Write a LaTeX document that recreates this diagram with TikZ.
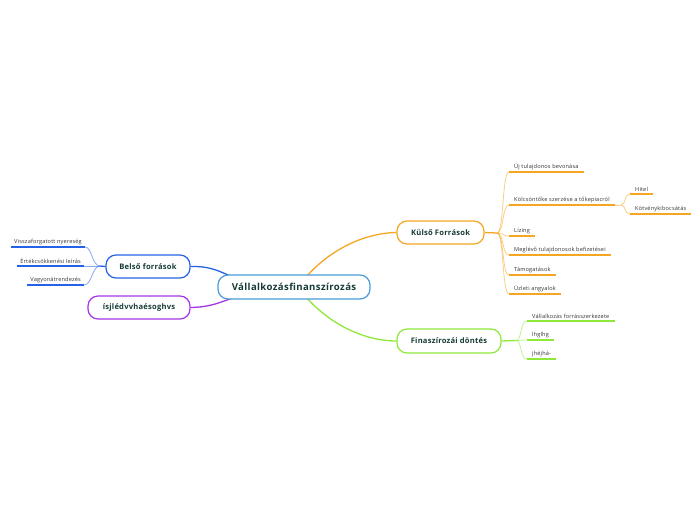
\documentclass[tikz,border=0pt]{standalone}
\usepackage{fontspec}
\setmainfont{Open Sans}
\usetikzlibrary{backgrounds}
\definecolor{cblue}{HTML}{2563E6}
\definecolor{ccenter}{HTML}{4A9BD9}
\definecolor{cpurple}{HTML}{A534E8}
\definecolor{corange}{HTML}{F5A623}
\definecolor{cgreen}{HTML}{8EE83A}
\definecolor{ctext}{HTML}{163B36}
\definecolor{cleaf}{HTML}{333333}
\begin{document}
\begin{tikzpicture}[x=1pt,y=-1pt,
  mainbox/.style={draw, line width=1.2pt, fill=white, rounded corners=10pt, inner sep=0pt,
    font=\fontsize{7.6}{8}\selectfont\bfseries\addfontfeatures{LetterSpace=3}, text=ctext},
  leaf/.style={inner xsep=5pt, inner ysep=2.2pt,
    font=\fontsize{5.6}{6}\selectfont\addfontfeatures{LetterSpace=3}, text=cleaf},
  under/.style={line width=1.6pt},
  twig/.style={line width=0.8pt, draw opacity=0.55},
  branch/.style={line width=1.3pt}]
\useasboundingbox (0,0) rectangle (696,520);

% main nodes
\node[mainbox, draw=ccenter, minimum width=152pt, minimum height=24pt,
  font=\fontsize{9.6}{10}\selectfont\bfseries\addfontfeatures{LetterSpace=4}] (c) at (294,287) {Vállalkozásfinanszírozás};
\node[mainbox, draw=cblue, minimum width=84pt, minimum height=23pt] (b) at (148,266.5) {Belső források};
\node[mainbox, draw=cpurple, minimum width=102pt, minimum height=23pt] (p) at (139,307.5) {ísjlédvvhaésoghvs};
\node[mainbox, draw=corange, minimum width=87pt, minimum height=23pt] (k) at (440.5,232.5) {Külső Források};
\node[mainbox, draw=cgreen, minimum width=104pt, minimum height=24pt] (f) at (449,341) {Finaszírozái döntés};

% leaves of Belso (left)
\node[leaf, inner xsep=3pt, anchor=south east] (b1) at (85,247) {Visszaforgatott nyereség};
\node[leaf, inner xsep=3pt, anchor=south east] (b2) at (84,266) {Értékcsökkenési leírás};
\node[leaf, inner xsep=3pt, anchor=south east] (b3) at (84,285) {Vagyonátrendezés};
\coordinate (bj) at (100,266);

% leaves of Kulso
\node[leaf, anchor=south west] (k1) at (509,172) {Új tulajdonos bevonása};
\node[leaf, anchor=south west] (k2) at (509,205) {Kölcsöntőke szerzése a tőkepiacról};
\node[leaf, anchor=south west] (k3) at (509,236) {Lízing};
\node[leaf, anchor=south west] (k4) at (509,255) {Meglévő tulajdonosok befizetései};
\node[leaf, anchor=south west] (k5) at (509,275) {Támogatások};
\node[leaf, anchor=south west] (k6) at (509,294) {Üzleti angyalok};
\coordinate (kj) at (497,233);

% sub leaves
\node[leaf, anchor=south west] (h1) at (630,194) {Hitel};
\node[leaf, anchor=south west] (h2) at (630,214) {Kötvénykibocsátás};
\coordinate (hj) at (621,205);

% leaves of Finan
\node[leaf, anchor=south west] (f1) at (527,321) {Vállalkozás forrásszerkezete};
\node[leaf, anchor=south west] (f2) at (527,340) {lhglhg};
\node[leaf, anchor=south west] (f3) at (527,359) {jhéjhá-};
\coordinate (fj) at (516,340.5);

\begin{scope}[on background layer]
% main branches
\draw[branch, cblue] (b.east) .. controls (212,266) and (220,272) .. (233,277);
\draw[branch, cpurple] (p.east) .. controls (212,307) and (220,302) .. (233,298);
\draw[branch, corange] (307,276) .. controls (328,252) and (362,233) .. (k.west);
\draw[branch, cgreen] (307,298) .. controls (328,322) and (362,341) .. (f.west);

% Belso leaves
\draw[branch, cblue] (b.west) -- (bj);
\foreach \n in {b1,b2,b3}{
  \draw[twig, cblue] (bj) .. controls (92,266) and (92,266 |- \n.south east) .. (\n.south east);
  \draw[under, cblue] (\n.south west) -- (\n.south east);
}
% Kulso leaves
\draw[branch, corange] (k.east) -- (kj);
\foreach \n in {k1,k2,k3,k4,k5,k6}{
  \draw[twig, corange] (kj) .. controls (504,233) and (502,0 |- \n.south west) .. (\n.south west);
  \draw[under, corange] (\n.south west) -- (\n.south east);
}
% sub leaves
\draw[twig, corange] (k2.south east) -- (hj);
\foreach \n in {h1,h2}{
  \draw[twig, corange] (hj) .. controls (626,205) and (624,0 |- \n.south west) .. (\n.south west);
  \draw[under, corange] (\n.south west) -- (\n.south east);
}
% Finan leaves
\draw[branch, cgreen] (f.east) -- (fj);
\foreach \n in {f1,f2,f3}{
  \draw[twig, cgreen] (fj) .. controls (522,340.5) and (520,0 |- \n.south west) .. (\n.south west);
  \draw[under, cgreen] (\n.south west) -- (\n.south east);
}
\end{scope}
\end{tikzpicture}
\end{document}
